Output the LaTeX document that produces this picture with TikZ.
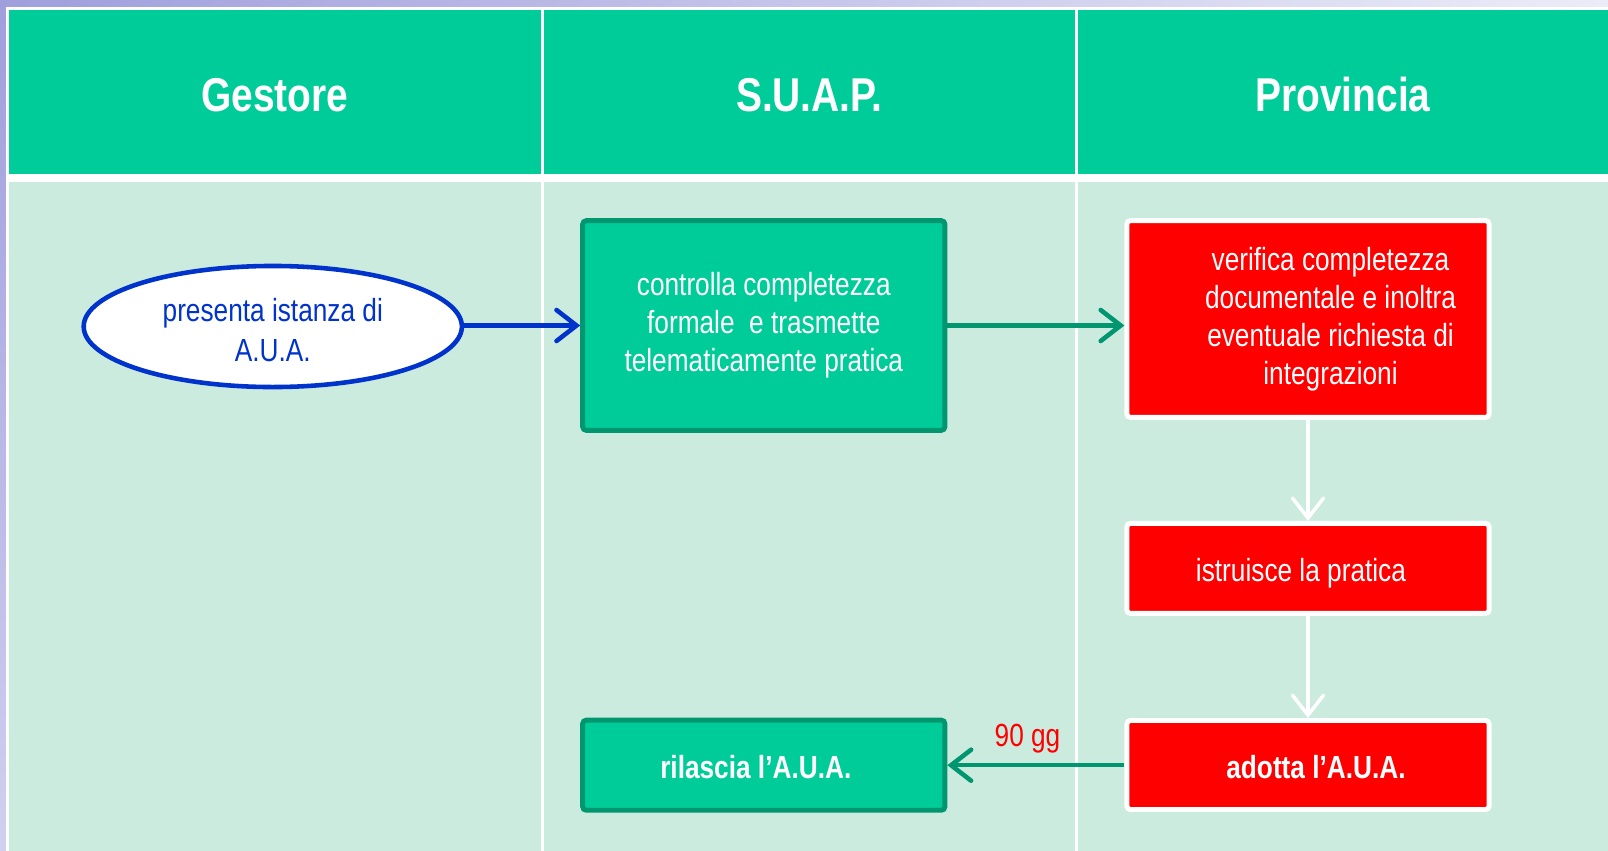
\documentclass[tikz,border=0pt]{standalone}
\usepackage{fontspec}
\setmainfont{Liberation Sans}[FakeStretch=0.82]
\usepackage{xcolor}
\usepackage{tikz}
\usetikzlibrary{shapes.geometric}
\usetikzlibrary{arrows.meta}
\usetikzlibrary{shadings}

\definecolor{lanegreen}{RGB}{0,204,153}
\definecolor{lanebody}{RGB}{204,235,223}
\definecolor{suapedge}{RGB}{0,150,112}
\definecolor{auablue}{RGB}{0,51,204}
\definecolor{lavtop}{RGB}{160,158,220}
\definecolor{lavmid}{RGB}{236,236,248}
\definecolor{lavlow}{RGB}{208,208,240}

\tikzset{
    lanehead/.style = {text = white, font = \fontsize{13.5}{16}\selectfont\bfseries},
    steptext/.style = {text = white, align = center, inner sep = 0pt,
        font = \fontsize{9.1}{10.8}\selectfont},
    stepbase/.style = {rectangle, rounded corners = 1pt, line width = 1.4pt,
        inner sep = 0pt, minimum width = 3.62cm},
    suapbox/.style = {stepbase, draw = suapedge, fill = lanegreen},
    provbox/.style = {stepbase, draw = white, fill = red},
    flow/.style = {line width = 1.3pt, -{Straight Barb[length=2mm, width=3.1mm, line cap=round]}}
}

\begin{document}
\begin{tikzpicture}[x = 0.01cm, y = -0.01cm]
        \useasboundingbox (0, 0) rectangle (1608, 851);

        % background and lanes
        \shade[upper left = lavtop, upper right = lavmid, lower left = lavlow, lower right = white]
            (0, 0) rectangle (1608, 851);
        \fill[white] (6, 7) rectangle (1608, 851);
        \foreach \xa/\xb/\lane [count = \i] in {9/540.5/Gestore, 543.5/1075/S.U.A.P., 1078/1608/Provincia} {
            \fill[lanegreen] (\xa, 10) rectangle (\xb, 174);
            \fill[lanebody] (\xa, 182) rectangle (\xb, 851);
            \node[lanehead] (head\i) at ({(\xa + \xb)/2}, 95) {\lane};
        }

        % steps
        \node[ellipse, draw = auablue, fill = white, line width = 1.3pt,
            minimum width = 3.78cm, minimum height = 1.21cm, inner sep = 0pt,
            label = {[steptext, text = auablue, yshift = -0.04cm, font = \fontsize{9.1}{11.4}\selectfont]center:presenta istanza di\\A.U.A.}]
            (istanza) at (272.8, 326.5) {};
        \node[suapbox, minimum height = 2.095cm,
            label = {[steptext]center:controlla completezza\\formale\ \ e trasmette\\telematicamente pratica}]
            (controllo) at (763.8, 325.5) {};
        \node[suapbox, minimum height = 0.9cm,
            label = {[steptext, xshift = -0.08cm, yshift = -0.02cm]center:\bfseries rilascia l’A.U.A.}]
            (rilascio) at (763.8, 765.2) {};
        \node[provbox, minimum height = 1.967cm,
            label = {[steptext, xshift = 0.225cm]center:verifica completezza\\documentale e inoltra\\eventuale richiesta di\\integrazioni}]
            (verifica) at (1308, 319) {};
        \node[provbox, minimum height = 0.9cm,
            label = {[steptext, xshift = -0.07cm, yshift = -0.05cm]center:istruisce la pratica}]
            (istruttoria) at (1308, 568.4) {};
        \node[provbox, minimum height = 0.89cm,
            label = {[steptext, xshift = 0.08cm, yshift = -0.02cm]center:\bfseries adotta l’A.U.A.}]
            (adozione) at (1308, 765) {};

        % connectors
        \draw[flow, auablue] (istanza.east |- controllo.west) -- (controllo.west);
        \draw[flow, suapedge] (controllo.east) -- (controllo.east -| verifica.west);
        \draw[flow, white, line width = 1pt] (verifica) -- (istruttoria);
        \draw[flow, white, line width = 1pt] (istruttoria) -- (adozione);
        \draw[flow, suapedge] (adozione.west |- rilascio.east) -- (rilascio.east);
        \node[text = red, font = \fontsize{9.1}{10.8}\selectfont] (termine) at (1027.5, 739) {90 gg};
    \end{tikzpicture}
\end{document}
